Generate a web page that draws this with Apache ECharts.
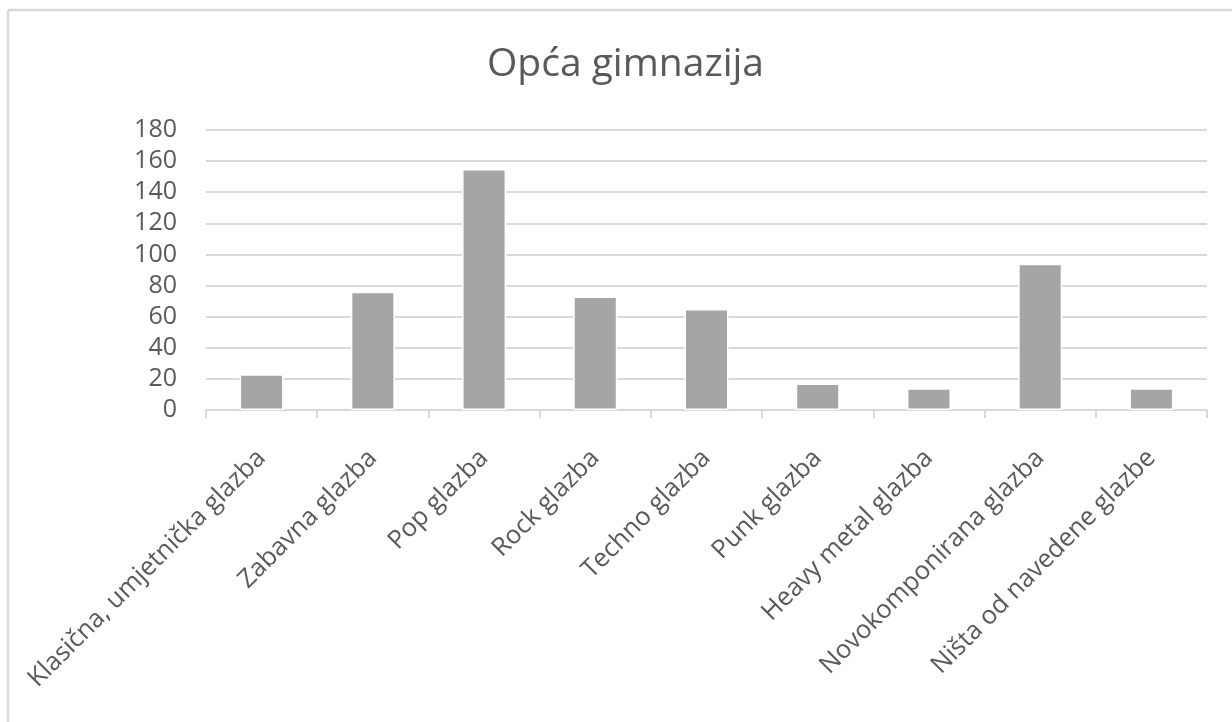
<!DOCTYPE html>
<html>
<head>
<meta charset="utf-8">
<script src="https://cdn.jsdelivr.net/npm/echarts@6/dist/echarts.min.js"></script>
<style>
html,body{margin:0;padding:0;background:#fff;}
#chart{width:1232px;height:722px;}
</style>
</head>
<body>
<div id="chart"></div>
<script>
const titleText = 'Opća gimnazija';
const categories = [
  'Klasična, umjetnička glazba',
  'Zabavna glazba',
  'Pop glazba',
  'Rock glazba',
  'Techno glazba',
  'Punk glazba',
  'Heavy metal glazba',
  'Novokomponirana glazba',
  'Ništa od navedene glazbe'
];
const values = [23, 76, 155, 73, 65, 17, 14, 94, 14];
const yMin = 0, yMax = 180, yStep = 20;

const chart = echarts.init(document.getElementById('chart'));
const font = 'Open Sans';
chart.setOption({
  animation: false,
  backgroundColor: '#fff',
  title: {
    text: titleText,
    left: 482,
    top: 40,
    textStyle: {fontFamily: font, fontSize: 39, fontWeight: 'normal', color: '#595959'}
  },
  graphic: [
    {type: 'line', shape: {x1: 8, y1: 10, x2: 1232, y2: 10}, style: {stroke: '#d9d9d9', lineWidth: 2.5}, silent: true},
    {type: 'line', shape: {x1: 8, y1: 10, x2: 8, y2: 722}, style: {stroke: '#d9d9d9', lineWidth: 2.5}, silent: true}
  ],
  grid: {left: 206, right: 25, top: 130, bottom: 312},
  xAxis: {
    type: 'category',
    data: categories,
    axisLine: {lineStyle: {color: '#d9d9d9', width: 2}},
    axisTick: {show: true, length: 8, lineStyle: {color: '#d9d9d9', width: 2}},
    axisLabel: {
      rotate: 45, margin: 44, interval: 0,
      fontFamily: font, fontSize: 25.5, color: '#595959'
    }
  },
  yAxis: {
    type: 'value',
    min: yMin, max: yMax, interval: yStep,
    axisLine: {show: false},
    axisTick: {show: false},
    axisLabel: {margin: 29, fontFamily: font, fontSize: 25, color: '#595959'},
    splitLine: {lineStyle: {color: '#d9d9d9', width: 2}}
  },
  series: [{
    type: 'bar',
    data: values,
    barWidth: 44,
    itemStyle: {color: '#a5a5a5', borderColor: '#ffffff', borderWidth: 1.5}
  }]
});
</script>
</body>
</html>
